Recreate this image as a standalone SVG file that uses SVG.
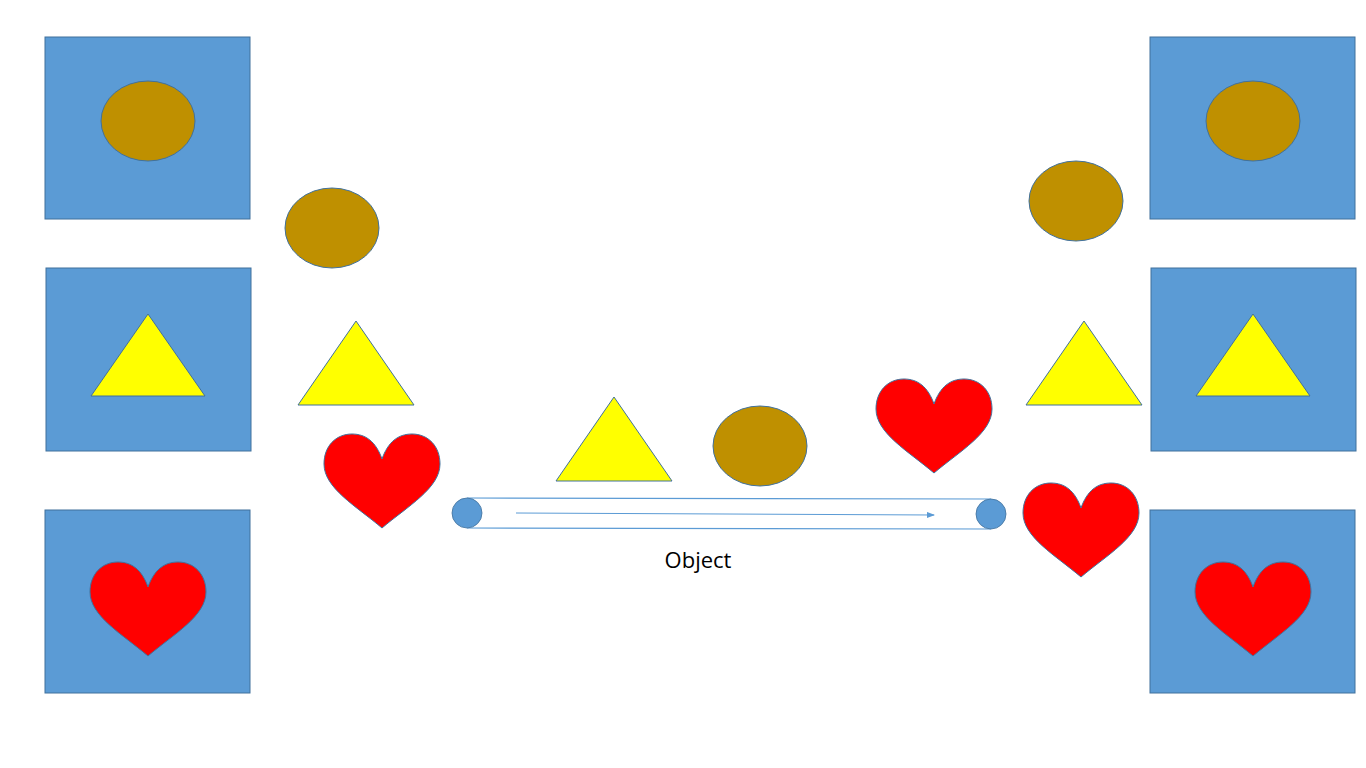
<svg xmlns="http://www.w3.org/2000/svg" width="1366" height="768" viewBox="0 0 1366 768">
<defs>
<style>
.box{fill:#5B9BD5;stroke:#41719C;stroke-width:1}
.circ{fill:#BF9000;stroke:#41719C;stroke-width:1}
.tri{fill:#FFFF00;stroke:#41719C;stroke-width:1}
.heart{fill:#FF0000;stroke:#41719C;stroke-width:1}
.belt{fill:none;stroke:#5B9BD5;stroke-width:1.2}
.roller{fill:#5B9BD5;stroke:#41719C;stroke-width:0.8}
.lbl{font-family:'Open Sans','Noto Sans',sans-serif;font-size:22px;fill:#000}
</style>
<path id="hp" d="M58,25 C52,8 42,0 28,0 C12,0 0,12 0,30 C0,54 32,72 58,94 C84,72 116,54 116,30 C116,12 104,0 88,0 C74,0 64,8 58,25 Z"/>
<marker id="ah" markerWidth="8" markerHeight="6" refX="7" refY="3" orient="auto" markerUnits="userSpaceOnUse">
<path d="M0,0 L8,3 L0,6 Z" fill="#5B9BD5"/>
</marker>
</defs>
<rect width="1366" height="768" fill="#fff"/>

<g id="left-box-circle"><rect class="box" x="45" y="37" width="205" height="182"/><ellipse class="circ" cx="148" cy="121" rx="47" ry="40"/></g>
<g id="left-box-triangle"><rect class="box" x="46" y="268" width="205" height="183"/><polygon class="tri" points="148,314 205,396 91,396"/></g>
<g id="left-box-heart"><rect class="box" x="45" y="510" width="205" height="183"/><use href="#hp" class="heart" transform="translate(90,562)"/></g>

<g id="right-box-circle"><rect class="box" x="1150" y="37" width="205" height="182"/><ellipse class="circ" cx="1253" cy="121" rx="47" ry="40"/></g>
<g id="right-box-triangle"><rect class="box" x="1151" y="268" width="205" height="183"/><polygon class="tri" points="1253,314 1310,396 1196,396"/></g>
<g id="right-box-heart"><rect class="box" x="1150" y="510" width="205" height="183"/><use href="#hp" class="heart" transform="translate(1195,562)"/></g>

<g id="circle-a"><ellipse class="circ" cx="332" cy="228" rx="47" ry="40"/></g>
<g id="triangle-a"><polygon class="tri" points="356,321 414,405 298,405"/></g>
<g id="heart-a"><use href="#hp" class="heart" transform="translate(324,434)"/></g>
<g id="triangle-b"><polygon class="tri" points="614,397 672,481 556,481"/></g>
<g id="circle-b"><ellipse class="circ" cx="760" cy="446" rx="47" ry="40"/></g>
<g id="heart-b"><use href="#hp" class="heart" transform="translate(876,379)"/></g>
<g id="circle-c"><ellipse class="circ" cx="1076" cy="201" rx="47" ry="40"/></g>
<g id="triangle-c"><polygon class="tri" points="1084,321 1142,405 1026,405"/></g>
<g id="heart-c"><use href="#hp" class="heart" transform="translate(1023,483)"/></g>

<g id="conveyor">
<line class="belt" x1="467" y1="498" x2="991" y2="499"/>
<line class="belt" x1="467" y1="528" x2="991" y2="529"/>
<circle class="roller" cx="467" cy="513" r="15"/>
<circle class="roller" cx="991" cy="514" r="15"/>
</g>
<g id="connectors">
<line x1="516" y1="513" x2="934" y2="515" stroke="#5B9BD5" stroke-width="1" marker-end="url(#ah)"/>
</g>
<text class="lbl" x="698" y="568" text-anchor="middle">Object</text>
</svg>
